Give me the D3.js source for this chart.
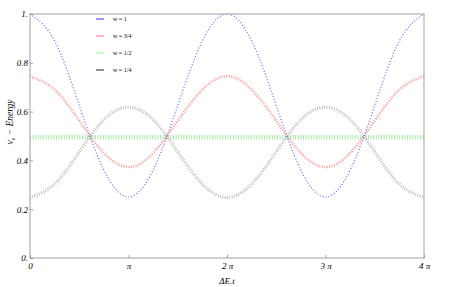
<!DOCTYPE html>
<html>
<head>
<meta charset="utf-8">
<script src="https://cdn.jsdelivr.net/npm/d3@7"></script>
<style>
  body { margin: 0; background: #fff; }
  text { font-family: "Liberation Serif", "DejaVu Serif", serif; }
</style>
</head>
<body>
<div id="chart"></div>
<script>
var svgWidth = 463;
var svgHeight = 287;

var margin = { top: 14, right: 39, bottom: 29, left: 30 };
var width = svgWidth - margin.left - margin.right;
var height = svgHeight - margin.top - margin.bottom;

// time in multiples of pi (steps of pi/4)
var tPi = [0, 0.25, 0.5, 0.75, 1, 1.25, 1.5, 1.75, 2, 2.25, 2.5, 2.75, 3, 3.25, 3.5, 3.75, 4];

var wOne = [1, 0.89, 0.625, 0.36, 0.25, 0.36, 0.625, 0.89, 1, 0.89, 0.625, 0.36, 0.25, 0.36, 0.625, 0.89, 1];
var wThreeQuarter = [0.745, 0.69, 0.5625, 0.43, 0.373, 0.43, 0.5625, 0.69, 0.745, 0.69, 0.5625, 0.43, 0.373, 0.43, 0.5625, 0.69, 0.745];
var wHalf = [0.495, 0.495, 0.495, 0.495, 0.495, 0.495, 0.495, 0.495, 0.495, 0.495, 0.495, 0.495, 0.495, 0.495, 0.495, 0.495, 0.495];
var wQuarter = [0.248, 0.303, 0.435, 0.567, 0.618, 0.567, 0.435, 0.303, 0.248, 0.303, 0.435, 0.567, 0.618, 0.567, 0.435, 0.303, 0.248];

var xTicks = [0, 1, 2, 3, 4];
var xTickLabels = ["0", "\u03c0", "2 \u03c0", "3 \u03c0", "4 \u03c0"];
var yTicks = [0, 0.2, 0.4, 0.6, 0.8, 1];
var yTickLabels = ["0.", "0.2", "0.4", "0.6", "0.8", "1."];

var legendLabels = ["w = 1", "w = 3/4", "w = 1/2", "w = 1/4"];

var svg = d3.select("#chart").append("svg")
  .attr("width", svgWidth)
  .attr("height", svgHeight);

var chartGroup = svg.append("g")
  .attr("transform", `translate(${margin.left}, ${margin.top})`);

var xScale = d3.scaleLinear().domain([0, 4]).range([0, width]);
var yScale = d3.scaleLinear().domain([0, 1]).range([height, 0]);

// series styles
var series = [
  { values: wOne, color: "#4a4aff", width: 1.2, dash: "1,2", op: 0.85, legend: "#3030ff" },
  { values: wThreeQuarter, color: "#ff8080", width: 2.6, dash: "1,1.5", op: 0.8, legend: "#ff7070" },
  { values: wHalf, color: "#8fe88f", width: 4.5, dash: "1,1.6", op: 0.85, legend: "#80ff80" },
  { values: wQuarter, color: "#a0a0a0", width: 3.2, dash: "0.9,1.5", op: 0.75, legend: "#222222" }
];

var line = d3.line()
  .x((d, i) => xScale(tPi[i]))
  .y(d => yScale(d))
  .curve(d3.curveNatural);

// draw in order: green behind
[2, 3, 1, 0].forEach(function(k) {
  var s = series[k];
  chartGroup.append("path")
    .attr("d", line(s.values))
    .attr("fill", "none")
    .attr("stroke", s.color)
    .attr("stroke-width", s.width)
    .attr("stroke-dasharray", s.dash)
    .attr("opacity", s.op);
});

// frame
chartGroup.append("rect")
  .attr("width", width)
  .attr("height", height)
  .attr("fill", "none")
  .attr("stroke", "#a0a0a0")
  .attr("stroke-width", 1);

// x axis
var bottomAxis = d3.axisBottom(xScale)
  .tickValues(xTicks)
  .tickSize(-3)
  .tickFormat((d, i) => xTickLabels[i]);

var xAxis = chartGroup.append("g")
  .attr("transform", `translate(0, ${height})`)
  .call(bottomAxis);

// y axis
var leftAxis = d3.axisLeft(yScale)
  .tickValues(yTicks)
  .tickSize(-3)
  .tickFormat((d, i) => yTickLabels[i]);

var yAxis = chartGroup.append("g")
  .call(leftAxis);

[xAxis, yAxis].forEach(function(ax) {
  ax.select(".domain").remove();
  ax.selectAll(".tick line").attr("stroke", "#a0a0a0");
  ax.selectAll(".tick text")
    .attr("font-family", "Liberation Serif, serif")
    .attr("font-style", "italic")
    .attr("font-size", 9)
    .attr("fill", "#000");
});
xAxis.selectAll(".tick text").attr("y", 5);
yAxis.selectAll(".tick text").attr("x", -2);

// axis titles
chartGroup.append("text")
  .attr("x", width / 2)
  .attr("y", height + 26)
  .attr("text-anchor", "middle")
  .attr("font-size", 9)
  .attr("font-style", "italic")
  .text("\u0394E.t");

var yLabel = chartGroup.append("text")
  .attr("transform", `translate(${-17}, ${108}) rotate(-90)`)
  .attr("text-anchor", "middle")
  .attr("font-size", 9.5)
  .attr("font-style", "italic");
yLabel.append("tspan").text("v");
yLabel.append("tspan").attr("font-size", 6).attr("dy", 2).text("e");
yLabel.append("tspan").attr("dy", -2).text(" \u2212 Energy");

// legend
var legend = chartGroup.append("g")
  .attr("transform", "translate(66, 5)");

series.forEach(function(s, i) {
  var row = legend.append("g")
    .attr("transform", `translate(0, ${i * 17})`);
  row.append("line")
    .attr("x1", 0).attr("x2", 8)
    .attr("stroke", s.legend)
    .attr("stroke-width", 1);
  row.append("text")
    .attr("x", 17)
    .attr("y", 2)
    .attr("font-size", 6)
    .text(legendLabels[i]);
});
</script>
</body>
</html>
